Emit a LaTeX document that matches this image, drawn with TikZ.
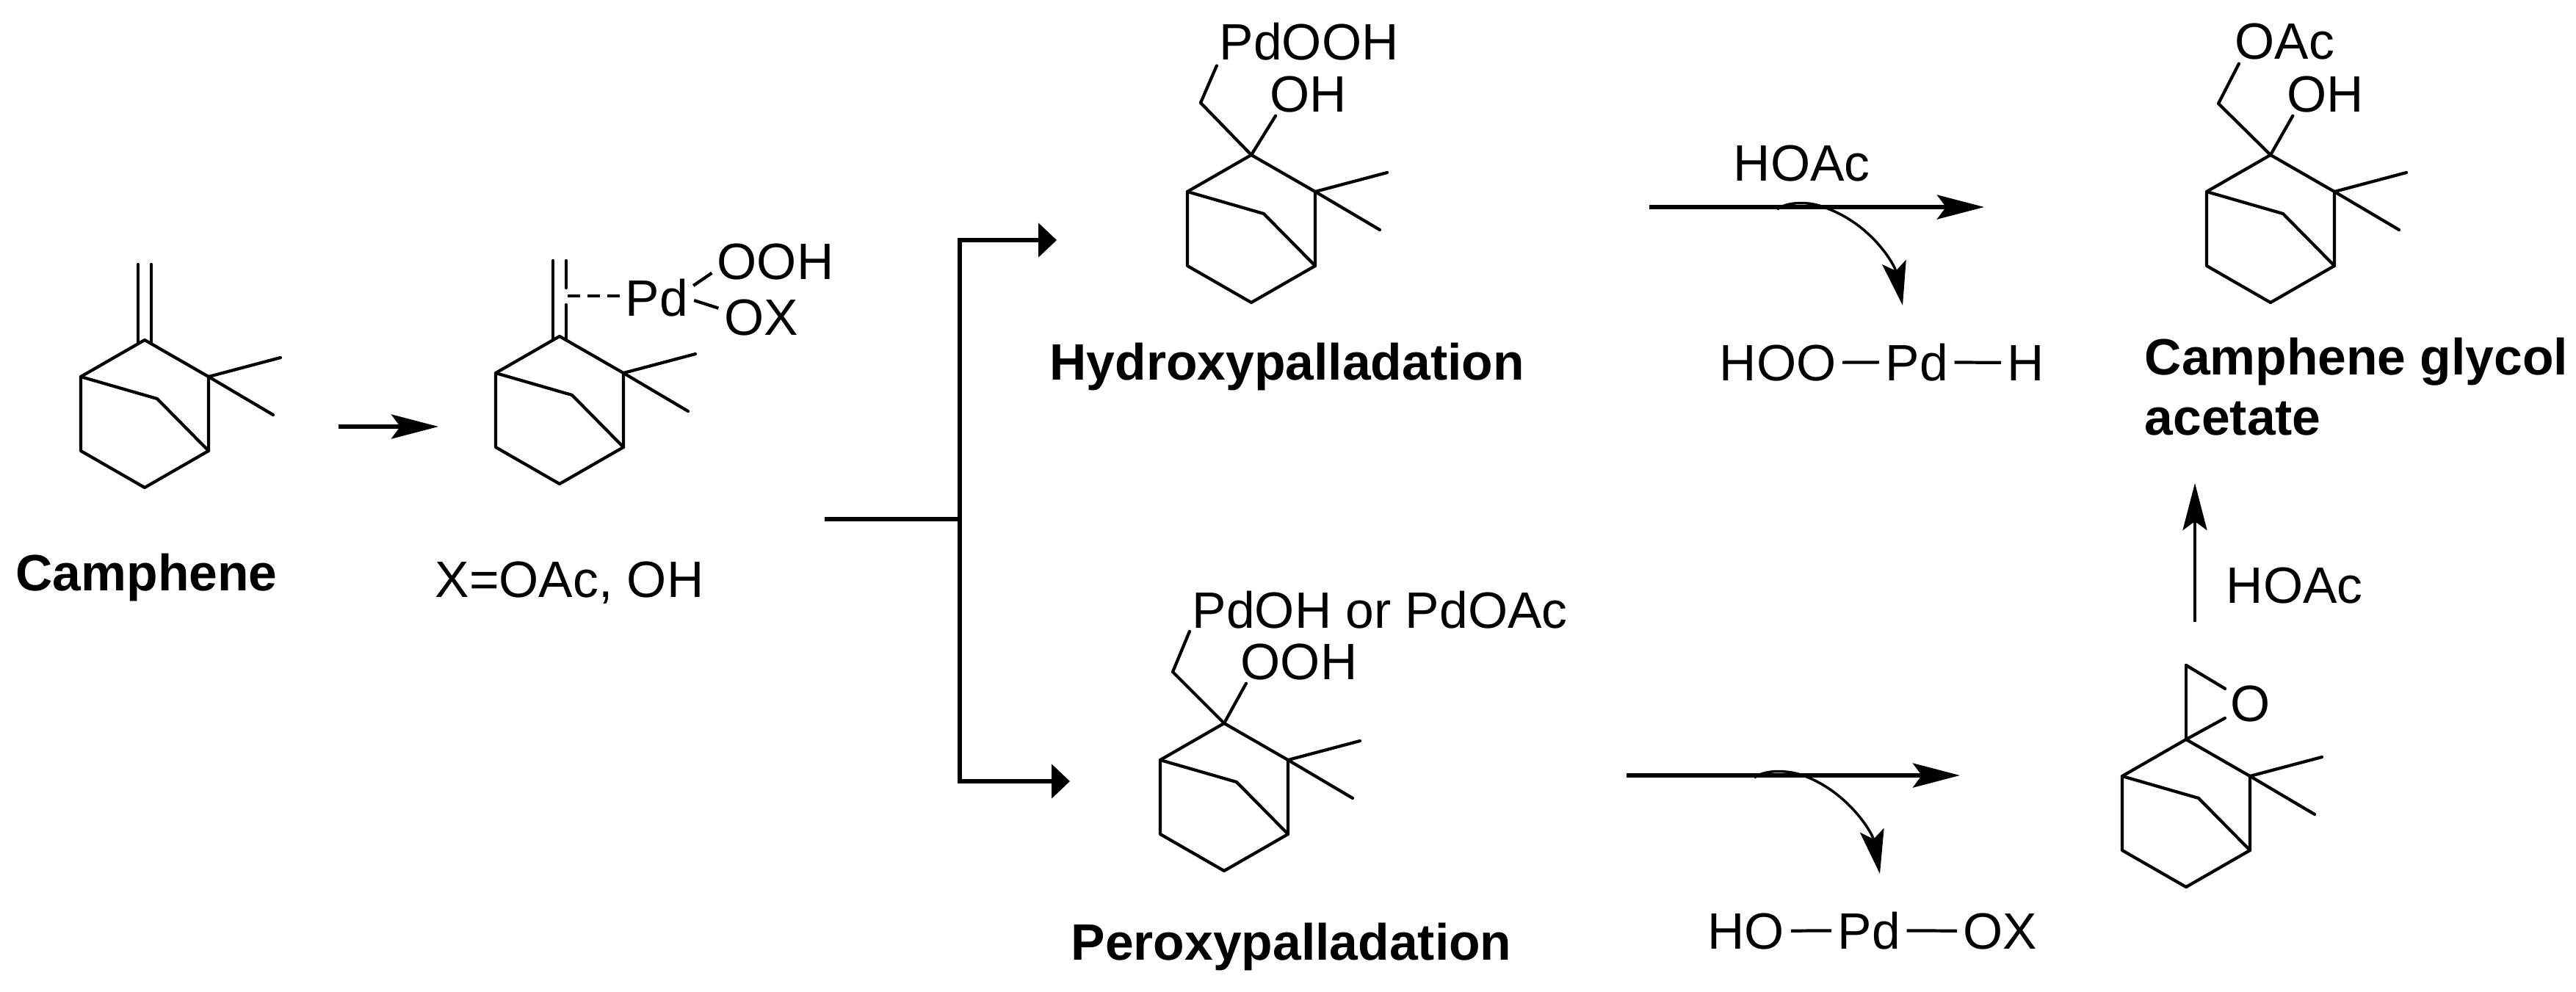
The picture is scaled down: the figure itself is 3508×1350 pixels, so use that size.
\documentclass[tikz,border=0pt]{standalone}
\usepackage{fontspec}
\setmainfont{Liberation Sans}
\usetikzlibrary{arrows.meta}

\tikzset{
    bond/.style={line width=1.2pt, line cap=round, line join=round},
    pdbond/.style={line width=1.2pt, shorten <=0.08cm, shorten >=0.08cm},
    lab/.style={anchor=base west, inner sep=0pt, font=\fontsize{19.8}{23.3}\selectfont},
    boldlab/.style={lab, font=\fontsize{19.8}{23.3}\selectfont\bfseries},
    rxn/.style={line width=1.5pt, -{Stealth[length=0.64cm, width=0.33cm, inset=0.12cm]}},
    curly/.style={line width=1pt, -{Stealth[length=0.6cm, width=0.33cm, inset=0.12cm]}},
    fork/.style={line width=1.5pt, -{Triangle[length=0.25cm, width=0.46cm]}}
}

% bicyclic skeleton, #1 = prefix of its corners, (#2,#3) = upper carbon
\newcommand{\skeleton}[3]{
    \begin{scope}[shift={(#2,#3)}]
        \coordinate (#1t) at (0, 0);
        \coordinate (#1l) at (-87, 50);
        \coordinate (#1r) at (87, 50);
        \coordinate (#1m) at (17, 80);
        \coordinate (#1br) at (87, 151);
        \coordinate (#1bl) at (-87, 151);
        \coordinate (#1b) at (0, 201);
        \coordinate (#1ma) at (185, 24);
        \coordinate (#1mb) at (175, 102);
        \draw[bond] (#1l) -- (#1t) -- (#1r) -- (#1br) -- (#1b) -- (#1bl) -- cycle;
        \draw[bond] (#1l) -- (#1m) -- (#1br);
        \draw[bond] (#1ma) -- (#1r) -- (#1mb);
    \end{scope}
}

\begin{document}
\begin{tikzpicture}[x=0.01cm, y=-0.01cm]
    \useasboundingbox (0, 0) rectangle (3508, 1350);

    % camphene
    \skeleton{a}{197}{463}
    \draw[bond] (at) ++(-9, 5) -- ++(0, -108);
    \draw[bond] (at) ++(9, 5) -- ++(0, -108);
    \node[boldlab] (camphene) at (21, 804) {Camphene};

    \coordinate (s1) at (461, 581);
    \coordinate (e1) at (597, 581);
    \draw[rxn] (s1) -- (e1);

    % pi complex
    \skeleton{b}{762}{458}
    \draw[bond] (bt) ++(-9, 5) -- ++(0, -108);
    \draw[bond] (bt) ++(9, 5) -- ++(0, -48);
    \draw[bond] (bt) ++(9, -66) -- ++(0, -37);
    \node[lab] (pdb) at (851, 430) {Pd};
    \node[lab] (oohb) at (976, 380) {OOH};
    \node[lab] (oxb) at (986, 456) {OX};
    \node[lab] (xdef) at (592, 813) {X=OAc, OH};
    \coordinate (dashb) at (773, 403);
    \draw[line width=1.2pt, dash pattern=on 0.17cm off 0.1cm] (dashb) -- (dashb -| pdb.west);
    \draw[pdbond] (pdb.15) -- (oohb.188);
    \draw[pdbond] (pdb.-2) -- (oxb.169);

    % fork
    \coordinate (forkin) at (1123, 707);
    \coordinate (forkj) at (1307, 707);
    \coordinate (forktop) at (1439, 327);
    \coordinate (forkbot) at (1457, 1064);
    \draw[line width=1.5pt] (forkin) -- (forkj);
    \draw[fork] (forkj) |- (forktop);
    \draw[fork] (forkj) |- (forkbot);

    % hydroxypalladation
    \skeleton{c}{1704}{211}
    \coordinate (cch) at (1635, 140);
    \node[lab] (pdooh) at (1660, 81) {PdOOH};
    \node[lab] (ohc) at (1729, 152) {OH};
    \draw[bond] (ct) -- (cch);
    \draw[bond, shorten >=0.08cm] (cch) -- (pdooh.192);
    \draw[bond, shorten >=0.05cm] (ct) -- (ohc.211);
    \node[boldlab] (hydroxy) at (1429, 517) {Hydroxypalladation};

    \node[lab] (hoac1) at (2360, 246) {HOAc};
    \coordinate (s2) at (2246, 282);
    \coordinate (e2) at (2702, 282);
    \draw[rxn] (s2) -- (e2);
    \coordinate (s2c) at (2420, 285);
    \coordinate (k2c) at (2486, 283);
    \coordinate (e2c) at (2591, 416);
    \draw[curly] (s2c) .. controls (2435, 274) and (2465, 274) .. (k2c) .. controls (2548, 305) and (2580, 360) .. (e2c);

    \node[lab] (hoo) at (2341, 518) {HOO};
    \node[lab] (pdc) at (2567, 518) {Pd};
    \node[lab] (hc) at (2733, 518) {H};
    \draw[pdbond] (hoo) -- (pdc);
    \draw[pdbond] (pdc) -- (hc);

    % camphene glycol acetate
    \skeleton{d}{3092}{211}
    \coordinate (dch) at (3021, 141);
    \node[lab] (oac) at (3043, 80) {OAc};
    \node[lab] (ohd) at (3114, 152) {OH};
    \draw[bond] (dt) -- (dch);
    \draw[bond, shorten >=0.06cm] (dch) -- (oac.203);
    \draw[bond, shorten >=0.05cm] (dt) -- (ohd.211);
    \node[boldlab, align=left] (glycol) at (2920, 592) {Camphene glycol\\acetate};

    % peroxypalladation
    \skeleton{e}{1667}{985}
    \coordinate (ech) at (1597, 915);
    \node[lab] (pdor) at (1623, 855) {PdOH or PdOAc};
    \node[lab] (oohe) at (1689, 925) {OOH};
    \draw[bond] (et) -- (ech);
    \draw[bond, shorten >=0.08cm] (ech) -- (pdor.185.7);
    \draw[bond, shorten >=0.05cm] (et) -- (oohe.200.5);
    \node[boldlab] (peroxy) at (1458, 1307) {Peroxypalladation};

    \coordinate (s3) at (2215, 1056);
    \coordinate (e3) at (2669, 1056);
    \draw[rxn] (s3) -- (e3);
    \coordinate (s3c) at (2389, 1059);
    \coordinate (k3c) at (2458, 1057);
    \coordinate (e3c) at (2560, 1190);
    \draw[curly] (s3c) .. controls (2404, 1048) and (2434, 1048) .. (k3c) .. controls (2518, 1080) and (2550, 1135) .. (e3c);

    \node[lab] (hoe) at (2325, 1292) {HO};
    \node[lab] (pde) at (2502, 1292) {Pd};
    \node[lab] (oxe) at (2673, 1292) {OX};
    \draw[pdbond] (hoe) -- (pde);
    \draw[pdbond] (pde) -- (oxe);

    % epoxide
    \skeleton{f}{2977}{1007}
    \coordinate (fch) at (2977, 906);
    \node[lab] (oxo) at (3037, 982) {O};
    \draw[bond] (ft) -- (fch);
    \draw[bond, shorten >=0.08cm] (fch) -- (oxo.150);
    \draw[bond, shorten >=0.08cm] (ft) -- (oxo.210);

    \coordinate (s4) at (2989, 847);
    \coordinate (e4) at (2989, 658);
    \draw[rxn, line width=1.2pt] (s4) -- (e4);
    \node[lab] (hoac2) at (3031, 821) {HOAc};
\end{tikzpicture}
\end{document}
